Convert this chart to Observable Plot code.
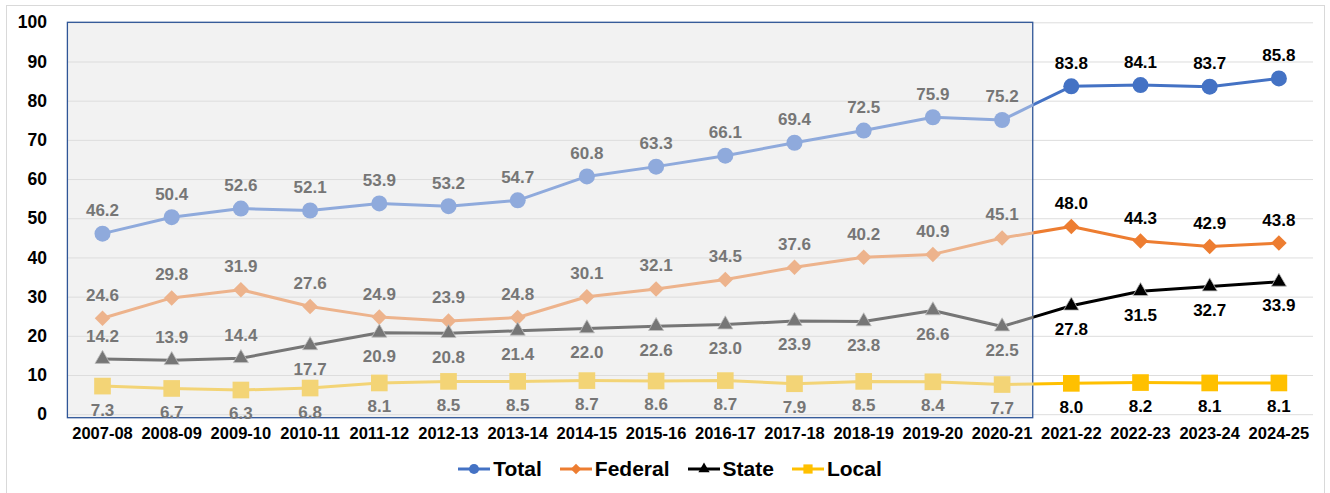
<!DOCTYPE html>
<html><head><meta charset="utf-8">
<script src="https://cdn.jsdelivr.net/npm/d3@7"></script>
<script src="https://cdn.jsdelivr.net/npm/@observablehq/plot@0.6"></script>
<style>
body{margin:0;background:#fff;font-family:"Liberation Sans",Arial,sans-serif;}
#frame{position:absolute;left:6px;top:5px;width:1319px;height:492px;border:1px solid #D9D9D9;box-sizing:border-box;}
#chart{position:absolute;left:0;top:0;}
#legend{position:absolute;top:457px;left:0;width:1340px;display:flex;justify-content:center;align-items:center;font-weight:bold;font-size:21px;color:#000;}
.item{display:flex;align-items:center;margin:0 9px;}
.item svg{margin-right:3px;}
</style></head>
<body>
<div id="frame"></div>
<div id="chart"></div>
<div id="legend"></div>
<script>
const years = ["2007-08","2008-09","2009-10","2010-11","2011-12","2012-13","2013-14","2014-15","2015-16","2016-17","2017-18","2018-19","2019-20","2020-21","2021-22","2022-23","2023-24","2024-25"];
const total   = [46.2,50.4,52.6,52.1,53.9,53.2,54.7,60.8,63.3,66.1,69.4,72.5,75.9,75.2,83.8,84.1,83.7,85.8];
const federal = [24.6,29.8,31.9,27.6,24.9,23.9,24.8,30.1,32.1,34.5,37.6,40.2,40.9,45.1,48.0,44.3,42.9,43.8];
const state   = [14.2,13.9,14.4,17.7,20.9,20.8,21.4,22.0,22.6,23.0,23.9,23.8,26.6,22.5,27.8,31.5,32.7,33.9];
const local   = [7.3,6.7,6.3,6.8,8.1,8.5,8.5,8.7,8.6,8.7,7.9,8.5,8.4,7.7,8.0,8.2,8.1,8.1];
const seriesNames = ["Total","Federal","State","Local"];
const yTicks = [0,10,20,30,40,50,60,70,80,90,100];

const seriesValues = [total, federal, state, local];
const fullColors  = ["#4472C4","#ED7D31","#000000","#FFC000"];
const fadedColors = ["#8FAADC","#EDB38C","#767676","#F3D476"];
const symbols = ["circle","diamond2","triangle","square"];
const radii = [8, 7, 5.6, 9.4];
const lastShaded = 13;      // index of 2020-21
const shadeEdge = 13.45;
const W = 1330, H = 448;

const rows = seriesValues.flatMap((vals,k)=>vals.map((v,i)=>({k,i,v,
  above: k<=1 || (k===2 && i<3)})));

const marks = [
  Plot.rect([0],{x1:-0.5,x2:shadeEdge,y1:0,y2:100,fill:"#F2F2F2",insetBottom:-3.5}),
  Plot.ruleY(yTicks,{x1:-0.5,x2:17.5,stroke:"#DDDDDD",strokeWidth:1}),
  Plot.rect([0],{x1:-0.5,x2:shadeEdge,y1:0,y2:100,fill:"none",stroke:"#2F5597",strokeWidth:1.3,insetBottom:-3.5}),
  Plot.axisY({ticks:yTicks,tickSize:0,tickPadding:21,fontSize:17.5,fontWeight:"bold",fill:"#000"}),
  Plot.axisX({ticks:d3.range(years.length),tickFormat:i=>years[i],tickSize:0,tickPadding:13,fontSize:16.5,fontWeight:"bold",fill:"#000"})
];
seriesValues.forEach((vals,k)=>{
  const data = vals.map((v,i)=>({i,v}));
  marks.push(Plot.line(data.filter(d=>d.i>=lastShaded),{x:"i",y:"v",stroke:fullColors[k],strokeWidth:3,ariaDescription:"full"}));
  marks.push(Plot.line(data.filter(d=>d.i<=lastShaded+1),{x:"i",y:"v",stroke:fadedColors[k],strokeWidth:3,ariaDescription:"faded"}));
});
seriesValues.forEach((vals,k)=>{
  const data = vals.map((v,i)=>({i,v}));
  const st = k===2 ? {stroke:"#BFBFBF",strokeWidth:0.8} : {};
  marks.push(Plot.dot(data.filter(d=>d.i<=lastShaded),{x:"i",y:"v",symbol:symbols[k],r:radii[k],fill:fadedColors[k],...st}));
  marks.push(Plot.dot(data.filter(d=>d.i>lastShaded),{x:"i",y:"v",symbol:symbols[k],r:radii[k],fill:fullColors[k],...st}));
});
const txt = {x:"i",y:"v",text:d=>d.v.toFixed(1),fontSize:17,fontWeight:"bold"};
marks.push(Plot.text(rows.filter(d=>d.above && d.i<=lastShaded),{...txt,dy:-23,fill:"#767676"}));
marks.push(Plot.text(rows.filter(d=>!d.above && d.i<=lastShaded),{...txt,dy:24,fill:"#767676"}));
marks.push(Plot.text(rows.filter(d=>d.above && d.i>lastShaded),{...txt,dy:-23,fill:"#000"}));
marks.push(Plot.text(rows.filter(d=>!d.above && d.i>lastShaded),{...txt,dy:24,fill:"#000"}));

const chart = Plot.plot({
  width:W,height:H,
  marginLeft:67.4,marginRight:17,marginTop:22.3,marginBottom:33.8,
  x:{domain:[-0.5,17.5],label:null},
  y:{domain:[0,100],label:null},
  style:{fontFamily:"'Liberation Sans',Arial,sans-serif",background:"transparent",overflow:"visible"},
  marks
});
document.getElementById("chart").appendChild(chart);

// clip faded lines to the shaded box and full lines to the area right of it
const edge = chart.scale("x").apply(shadeEdge);
const svg = d3.select(chart);
const defs = svg.insert("defs",":first-child");
defs.append("clipPath").attr("id","clipL").append("rect").attr("x",0).attr("y",0).attr("width",edge).attr("height",H);
defs.append("clipPath").attr("id","clipR").append("rect").attr("x",edge).attr("y",0).attr("width",W-edge).attr("height",H);
svg.selectAll('g[aria-description="faded"]').attr("clip-path","url(#clipL)");
svg.selectAll('g[aria-description="full"]').attr("clip-path","url(#clipR)");

// legend
const legend = d3.select("#legend");
seriesNames.forEach((name,k)=>{
  const it = legend.append("div").attr("class","item");
  const s = it.append("svg").attr("width",32).attr("height",20);
  s.append("line").attr("x1",0).attr("x2",32).attr("y1",10).attr("y2",10).attr("stroke",fullColors[k]).attr("stroke-width",3);
  s.append("path").attr("transform","translate(16,10)")
    .attr("d",d3.symbol([d3.symbolCircle,d3.symbolDiamond2,d3.symbolTriangle,d3.symbolSquare][k], [80,70,55,85][k])())
    .attr("fill",fullColors[k]);
  it.append("span").text(name);
});
</script>
</body></html>
